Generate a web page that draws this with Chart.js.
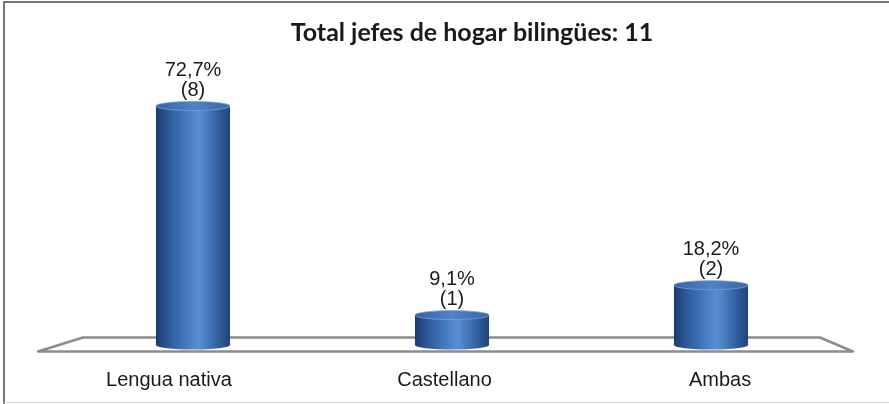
<!DOCTYPE html>
<html>
<head>
<meta charset="utf-8">
<script src="https://cdn.jsdelivr.net/npm/chart.js@4.4.1/dist/chart.umd.min.js"></script>
<style>
  html, body { margin: 0; padding: 0; background: #fff; }
  #wrap { width: 889px; height: 404px; position: relative; }
</style>
</head>
<body>
<div id="wrap"><canvas id="chart" width="889" height="404"></canvas></div>
<script>
// Chart data
const categories = ['Lengua nativa', 'Castellano', 'Ambas'];
const percentages = [72.7, 9.1, 18.2];
const counts = [8, 1, 2];
const totalBilingual = 11;
const titleText = 'Total jefes de hogar bilingües: ' + totalBilingual;

// Format 72.7 -> "72,7%"
function fmtPct(v) {
    return v.toFixed(1).replace('.', ',') + '%';
}

// Frame, title and category labels
const framePlugin = {
    id: 'frame',
    beforeDraw(chart) {
        const ctx = chart.ctx;
        ctx.save();
        ctx.fillStyle = '#fff';
        ctx.fillRect(0, 0, chart.width, chart.height);
        ctx.strokeStyle = '#4a4a4a';
        ctx.lineWidth = 1.5;
        ctx.beginPath();
        ctx.moveTo(4, chart.height);
        ctx.lineTo(4, 2);
        ctx.lineTo(chart.width, 2);
        ctx.stroke();
        ctx.strokeStyle = '#d8d8d8';
        ctx.lineWidth = 1;
        ctx.beginPath();
        ctx.moveTo(4, chart.height - 1.5);
        ctx.lineTo(chart.width, chart.height - 1.5);
        ctx.stroke();
        ctx.restore();
    },
    afterDraw(chart) {
        const ctx = chart.ctx;
        const xs = chart.scales.x;
        ctx.save();
        // title sits right of the plot centre in the original
        ctx.fillStyle = '#1a1a1a';
        ctx.font = 'bold 25px Lato, "Open Sans", sans-serif';
        ctx.textAlign = 'center';
        ctx.textBaseline = 'middle';
        ctx.fillText(titleText, 472, 33);

        // category labels follow the front edge of the floor (perspective spread)
        const mid = (chart.chartArea.left + chart.chartArea.right) / 2;
        ctx.font = '20px "Liberation Sans", Arial, sans-serif';
        ctx.textBaseline = 'alphabetic';
        categories.forEach((label, i) => {
            const px = xs.getPixelForTick(i);
            const lx = mid - 7.5 + (px - mid) * 1.064;
            ctx.fillText(label, lx, xs.top + 41);
        });
        ctx.restore();
    }
};

// 3D floor under the bars
const floorPlugin = {
    id: 'floor',
    beforeDatasetsDraw(chart) {
        const { ctx, chartArea } = chart;
        const base = chart.scales.y.getPixelForValue(0);
        const backY = base - 7.5, frontY = base + 6.5;
        ctx.save();
        ctx.strokeStyle = '#8c8c8c';
        ctx.lineWidth = 2.5;
        ctx.lineJoin = 'round';
        ctx.beginPath();
        ctx.moveTo(chartArea.left - 25.5, frontY);
        ctx.lineTo(chartArea.left + 19.5, backY);
        ctx.lineTo(chartArea.right - 20.5, backY);
        ctx.lineTo(chartArea.right + 12.5, frontY);
        ctx.closePath();
        ctx.stroke();
        ctx.restore();
    }
};

// Draw each bar as a cylinder, then the value labels
const cylinderPlugin = {
    id: 'cylinder',
    afterDatasetsDraw(chart) {
        const ctx = chart.ctx;
        const meta = chart.getDatasetMeta(0);
        meta.data.forEach((bar, i) => {
            const { x, y, base, width } = bar.getProps(['x', 'y', 'base', 'width'], true);
            const rx = width / 2, ry = 4.5;
            const left = x - rx, right = x + rx;

            const body = ctx.createLinearGradient(left, 0, right, 0);
            body.addColorStop(0, '#1b3b6e');
            body.addColorStop(0.15, '#2b5696');
            body.addColorStop(0.45, '#4a7fc6');
            body.addColorStop(0.58, '#5a8fd3');
            body.addColorStop(0.8, '#3766a8');
            body.addColorStop(1, '#1f4579');

            ctx.save();
            ctx.fillStyle = body;
            ctx.beginPath();
            ctx.moveTo(left, y);
            ctx.lineTo(left, base);
            ctx.ellipse(x, base, rx, ry, 0, Math.PI, 0, true);
            ctx.lineTo(right, y);
            ctx.closePath();
            ctx.fill();

            const cap = ctx.createLinearGradient(left, 0, right, 0);
            cap.addColorStop(0, '#3563a4');
            cap.addColorStop(0.5, '#4f82c6');
            cap.addColorStop(1, '#3a68aa');
            ctx.fillStyle = cap;
            ctx.beginPath();
            ctx.ellipse(x, y, rx, ry, 0, 0, Math.PI * 2);
            ctx.fill();
            ctx.strokeStyle = 'rgba(120,160,215,0.8)';
            ctx.lineWidth = 1;
            ctx.stroke();

            ctx.fillStyle = '#1a1a1a';
            ctx.font = '20px "Liberation Sans", Arial, sans-serif';
            ctx.textAlign = 'center';
            ctx.textBaseline = 'alphabetic';
            ctx.fillText('(' + counts[i] + ')', x, y - 10);
            ctx.fillText(fmtPct(percentages[i]), x, y - 30);
            ctx.restore();
        });
    }
};

new Chart(document.getElementById('chart'), {
    type: 'bar',
    data: {
        labels: categories,
        datasets: [{
            data: percentages,
            backgroundColor: 'rgba(0,0,0,0)',
            borderWidth: 0,
            categoryPercentage: 1,
            barPercentage: 0.286
        }]
    },
    options: {
        responsive: false,
        animation: false,
        layout: { padding: { left: 63.5, right: 48.5, top: 82, bottom: 14 } },
        plugins: {
            legend: { display: false },
            tooltip: { enabled: false },
            title: { display: false }
        },
        scales: {
            x: {
                grid: { display: false, drawTicks: false },
                border: { display: false },
                ticks: { display: false },
                afterFit(scale) {
                    scale.height = 45;
                }
            },
            y: {
                display: false,
                min: 0,
                max: 80
            }
        }
    },
    plugins: [framePlugin, floorPlugin, cylinderPlugin]
});
</script>
</body>
</html>
